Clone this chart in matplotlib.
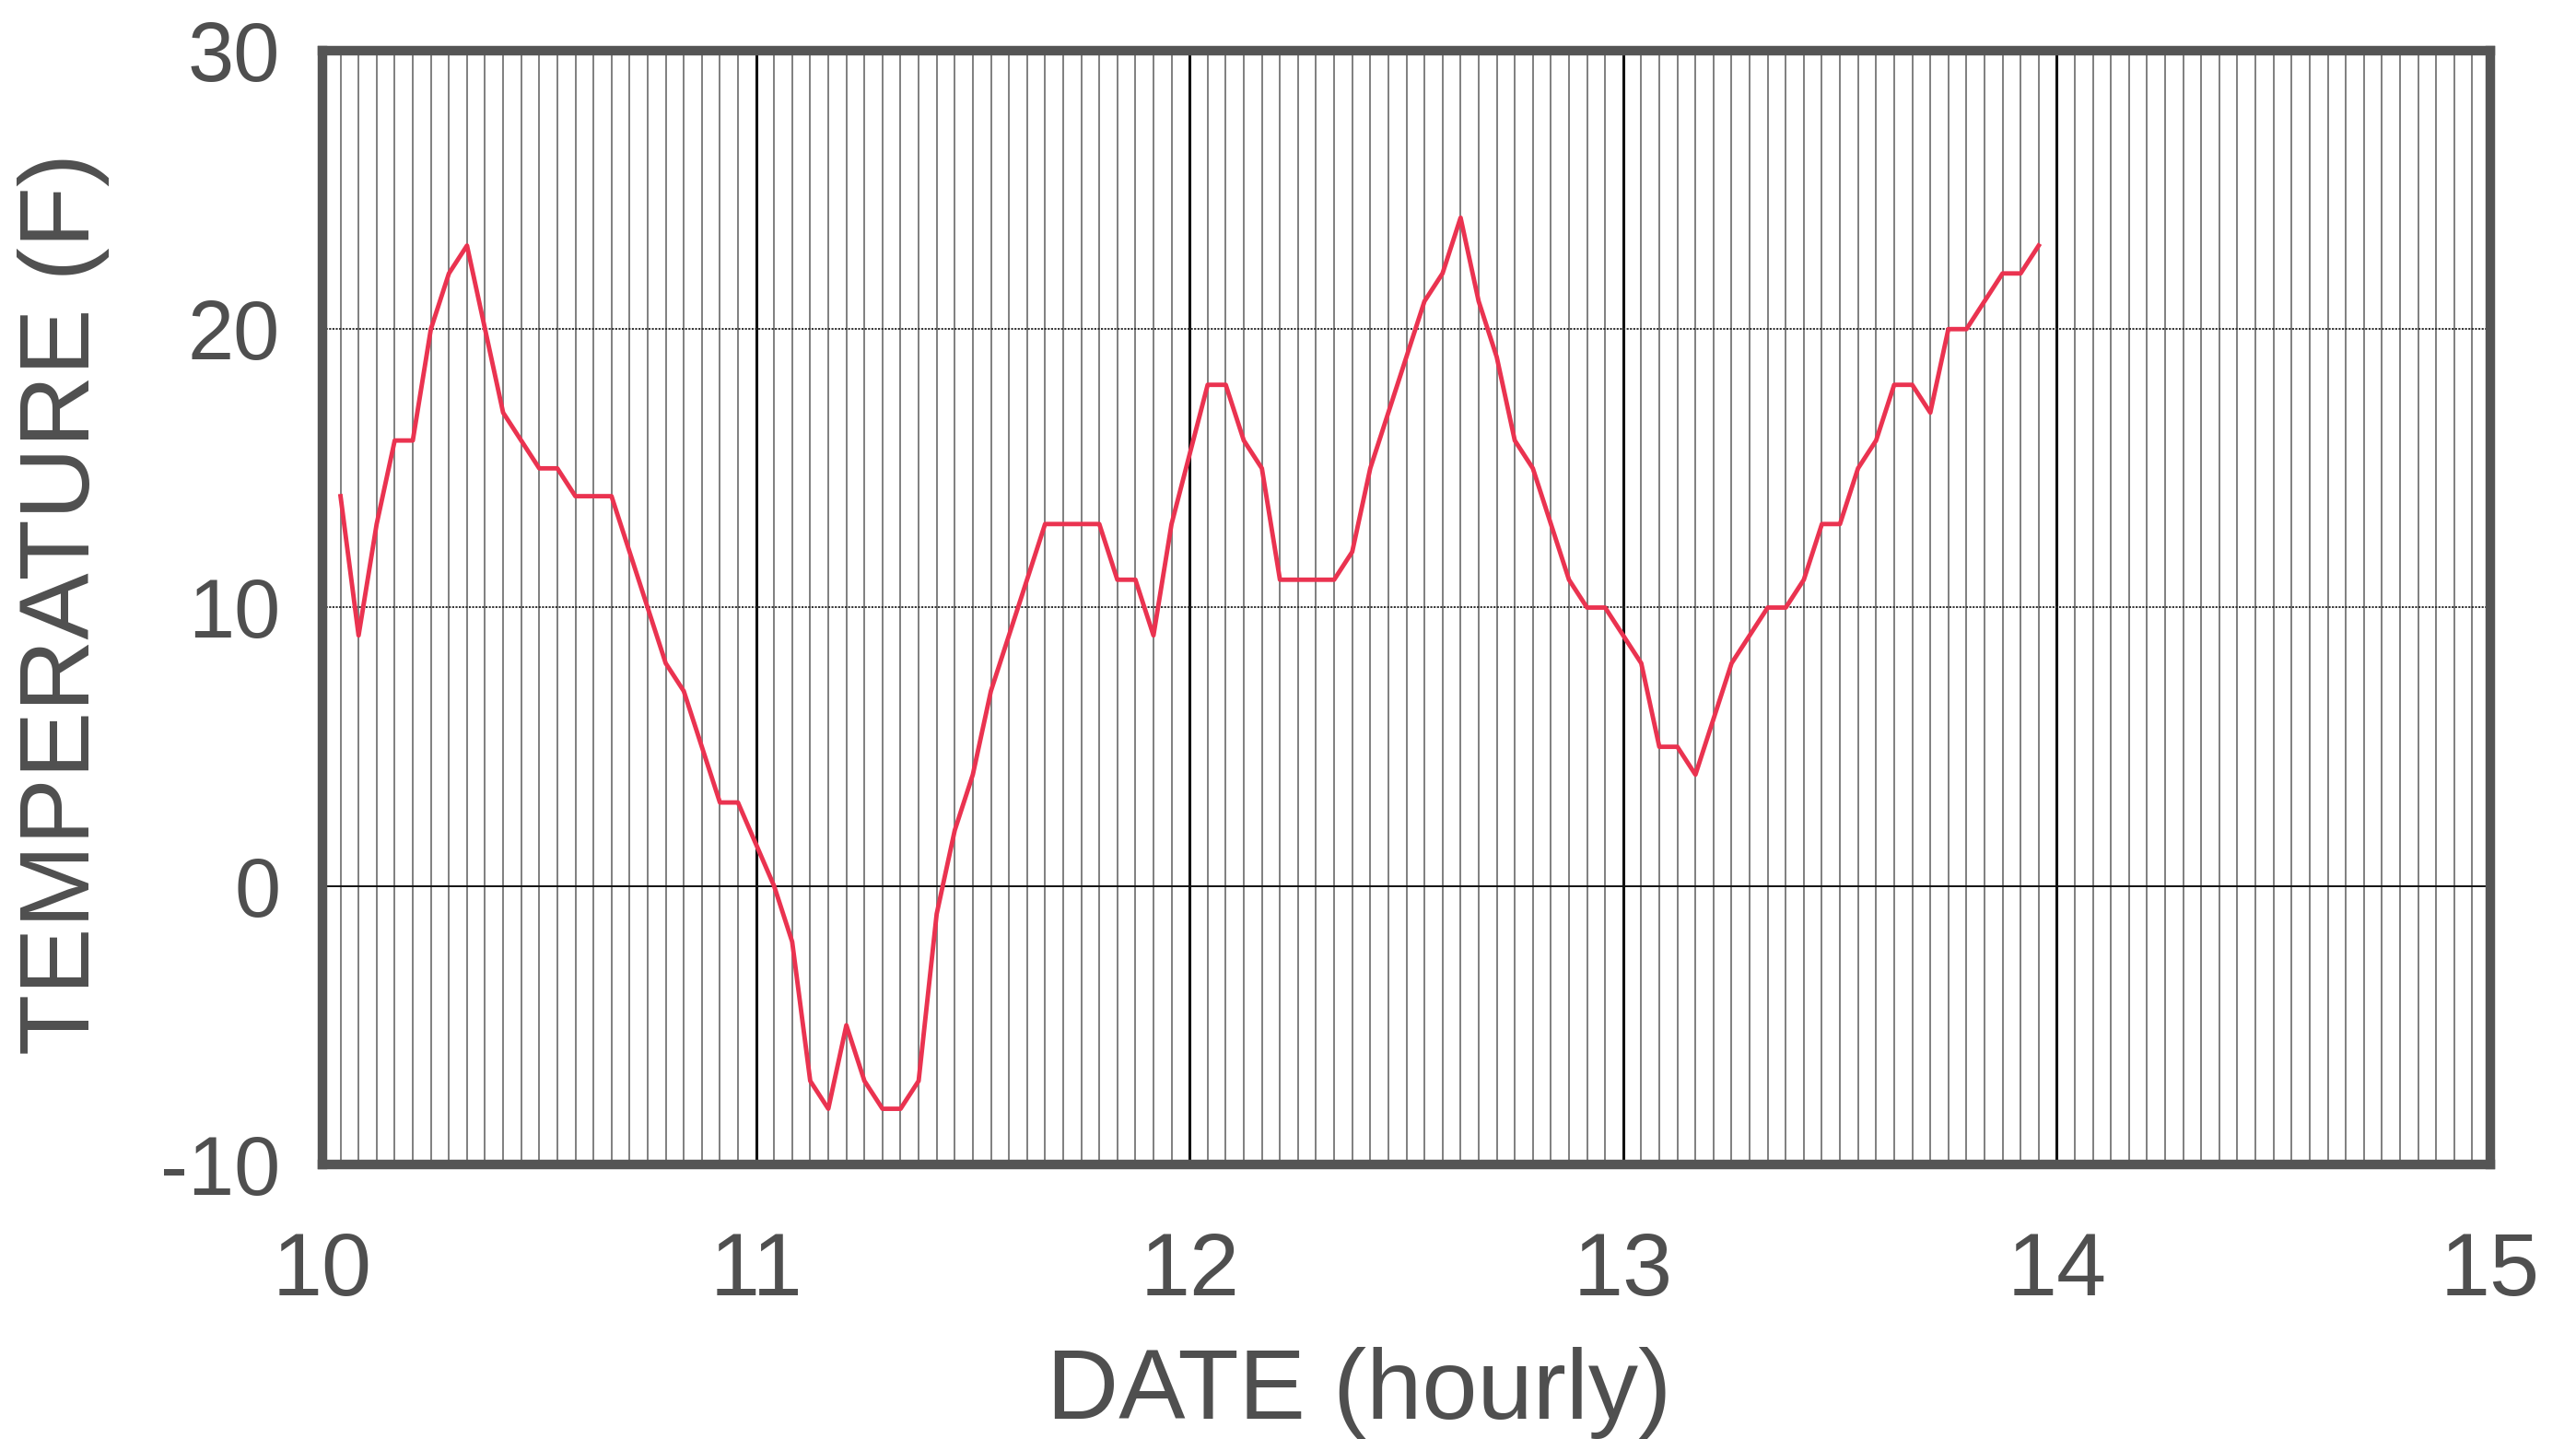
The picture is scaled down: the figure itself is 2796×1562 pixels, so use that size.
import matplotlib
matplotlib.use("Agg")
import matplotlib.pyplot as plt
from matplotlib.ticker import FixedLocator, MultipleLocator

plt.rcParams['font.family'] = ['Liberation Sans', 'DejaVu Sans']
plt.rcParams['axes.unicode_minus'] = False

# Hourly readings (hours 1..23 of each day; midnight readings are not recorded)
days = [10, 11, 12, 13]
hours = list(range(1, 24))
temp_day10 = [14, 9, 13, 16, 16, 20, 22, 23, 20, 17, 16, 15, 15, 14, 14, 14, 12, 10, 8, 7, 5, 3, 3]
temp_day11 = [0, -2, -7, -8, -5, -7, -8, -8, -7, -1, 2, 4, 7, 9, 11, 13, 13, 13, 13, 11, 11, 9, 13]
temp_day12 = [18, 18, 16, 15, 11, 11, 11, 11, 12, 15, 17, 19, 21, 22, 24, 21, 19, 16, 15, 13, 11, 10, 10]
temp_day13 = [8, 5, 5, 4, 6, 8, 9, 10, 10, 11, 13, 13, 15, 16, 18, 18, 17, 20, 20, 21, 22, 22, 23]

x_ticks = [10, 11, 12, 13, 14, 15]
y_ticks = [-10, 0, 10, 20, 30]

TEXT = '#4f4f4f'
FRAME = '#555555'
LINE = '#ea3350'

x_vals, y_vals = [], []
for day, temps in zip(days, [temp_day10, temp_day11, temp_day12, temp_day13]):
    for h, t in zip(hours, temps):
        x_vals.append(day + h / 24.0)
        y_vals.append(t)

fig = plt.figure(figsize=(27.96, 15.62), dpi=100)
fig.patch.set_facecolor('white')
ax = fig.add_axes([0.12518, 0.19078, 0.84156, 0.77401])

ax.set_xlim(x_ticks[0], x_ticks[-1])
ax.set_ylim(y_ticks[0], y_ticks[-1])

# hourly vertical rules, daily rules heavier
ax.xaxis.set_minor_locator(MultipleLocator(1 / 24))
ax.xaxis.set_major_locator(FixedLocator(x_ticks))
ax.yaxis.set_major_locator(FixedLocator(y_ticks))
ax.grid(which='minor', axis='x', color='#6a6a6a', lw=1.2)
ax.grid(which='major', axis='x', color='#111111', lw=2.2)
for yv in y_ticks[1:-1]:
    if yv == 0:
        ax.axhline(yv, color='#111111', lw=1.4, zorder=1.5)
    else:
        ax.axhline(yv, color='#222222', lw=1.3, ls=(0, (1.2, 0.8)), zorder=1.5)
ax.set_axisbelow(True)

ax.plot(x_vals, y_vals, color=LINE, lw=3.5, zorder=3)

for side in ['left', 'right', 'top', 'bottom']:
    ax.spines[side].set_linewidth(7.5)
    ax.spines[side].set_color(FRAME)
    ax.spines[side].set_zorder(4)

ax.tick_params(axis='both', which='both', length=0)
ax.tick_params(axis='x', labelsize=70, pad=52, labelcolor=TEXT)
ax.tick_params(axis='y', labelsize=65, pad=33, labelcolor=TEXT)
ax.set_xticklabels([str(v) for v in x_ticks])
ax.set_yticklabels([str(v) for v in y_ticks])

fig.text(0.0247, 0.5807, 'TEMPERATURE (F)', rotation=90, ha='center', va='center',
         fontsize=78, color=TEXT)
fig.text(0.5275, 0.0141, 'DATE (hourly)', ha='center', va='baseline',
         fontsize=78, color=TEXT)

fig.savefig('out.png', dpi=100, facecolor='white')
